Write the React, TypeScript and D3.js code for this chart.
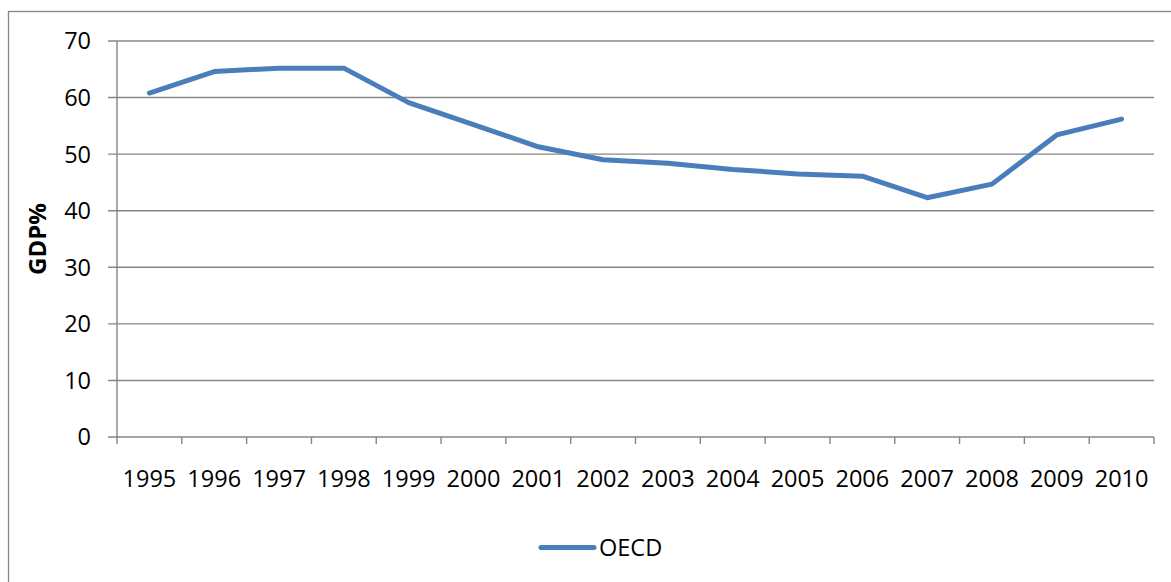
import * as d3 from "d3";

const years = [
  "1995", "1996", "1997", "1998", "1999", "2000", "2001", "2002",
  "2003", "2004", "2005", "2006", "2007", "2008", "2009", "2010",
];
const oecd = [
  60.8, 64.6, 65.2, 65.2, 59.1, 55.2, 51.3, 49.0,
  48.4, 47.3, 46.5, 46.1, 42.3, 44.7, 53.4, 56.2,
];
const yTicks = [0, 10, 20, 30, 40, 50, 60, 70];

const W = 1171;
const H = 582;
const FONT = "'Open Sans', 'Noto Sans', sans-serif";
const GRID = "#868686";
const BLUE = "#4a7ebb";

export default function App() {
  const left = 117;
  const right = 1154;
  const top = 41;
  const bottom = 437;

  const x = d3.scaleBand<string>().domain(years).range([left, right]).padding(0);
  const y = d3.scaleLinear().domain([0, 70]).range([bottom, top]);

  const line = d3
    .line<number>()
    .x((_, i) => (x(years[i]) ?? 0) + x.bandwidth() / 2)
    .y((d) => y(d));

  // category tick positions = band edges
  const edges = years.map((yr) => x(yr) ?? 0).concat([right]);

  return (
    <div style={{ position: "fixed", left: 0, top: 0 }}>
      <svg width={W} height={H} style={{ display: "block", background: "#fff" }}>
        {/* outer chart border */}
        <rect x={8.5} y={11.5} width={W + 10} height={H + 10} fill="none" stroke={GRID} strokeWidth={1.3} />

        {/* grid lines */}
        {yTicks.map((t) => (
          <line key={t} x1={left - 9} x2={right} y1={y(t)} y2={y(t)} stroke={GRID} strokeWidth={1.4} />
        ))}
        {/* y axis */}
        <line x1={left} x2={left} y1={top} y2={bottom} stroke={GRID} strokeWidth={1.4} />
        {yTicks.map((t) => (
          <text
            key={t}
            x={91}
            y={y(t)}
            dy="0.36em"
            textAnchor="end"
            fontFamily={FONT}
            fontSize={23.5}
            fill="#000"
          >
            {t}
          </text>
        ))}

        {/* x axis ticks */}
        {edges.map((e, i) => (
          <line key={i} x1={e} x2={e} y1={bottom} y2={bottom + 7} stroke={GRID} strokeWidth={1.4} />
        ))}
        {years.map((yr) => (
          <text
            key={yr}
            x={(x(yr) ?? 0) + x.bandwidth() / 2}
            y={487}
            textAnchor="middle"
            fontFamily={FONT}
            fontSize={23.5}
            fill="#000"
          >
            {yr}
          </text>
        ))}

        {/* y label */}
        <text
          transform={`translate(46,${(top + bottom) / 2}) rotate(-90)`}
          textAnchor="middle"
          fontFamily={FONT}
          fontSize={24}
          fontWeight="bold"
          fill="#000"
        >
          GDP%
        </text>

        {/* series */}
        <path
          d={line(oecd) ?? ""}
          fill="none"
          stroke={BLUE}
          strokeWidth={5}
          strokeLinejoin="round"
          strokeLinecap="round"
        />

        {/* legend */}
        <line x1={541} x2={594} y1={547.5} y2={547.5} stroke={BLUE} strokeWidth={5} strokeLinecap="round" />
        <text x={599} y={556} fontFamily={FONT} fontSize={23.5} fill="#000">
          OECD
        </text>
      </svg>
    </div>
  );
}
